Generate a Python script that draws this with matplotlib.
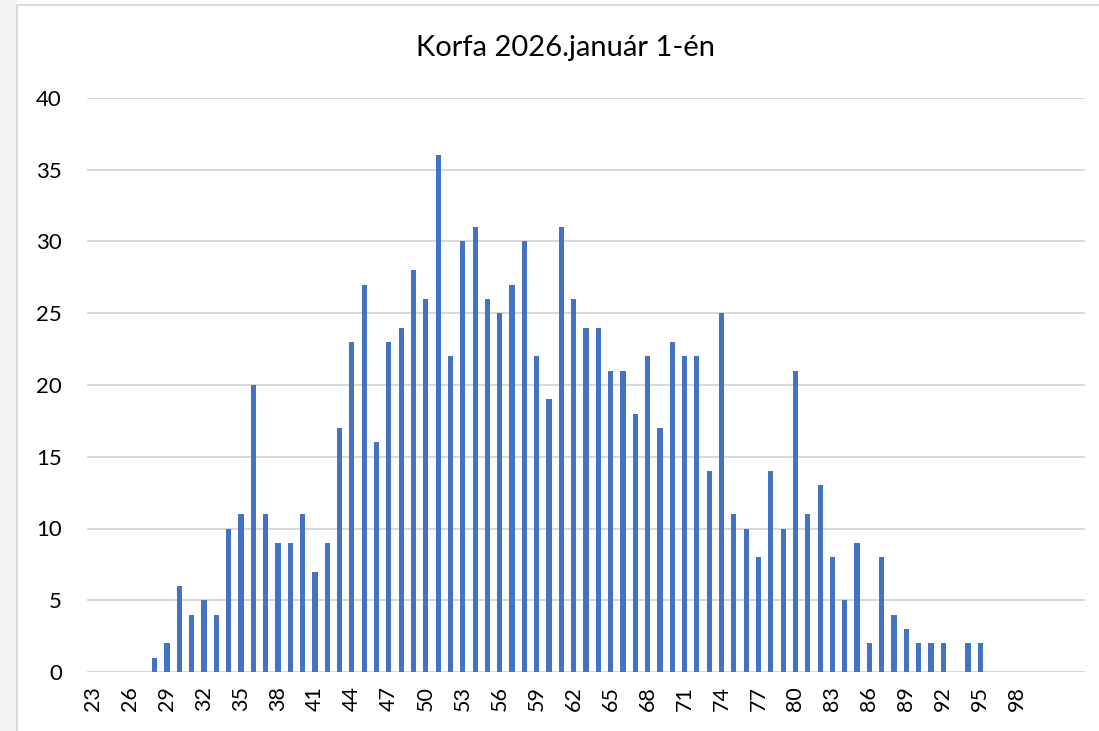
import matplotlib.pyplot as plt
from matplotlib.patches import Rectangle

ages = list(range(23, 101))
counts = [0, 0, 0, 0, 0, 1, 2, 6, 4, 5,
          4, 10, 11, 20, 11, 9, 9, 11, 7, 9,
          17, 23, 27, 16, 23, 24, 28, 26, 36, 22,
          30, 31, 26, 25, 27, 30, 22, 19, 31, 26,
          24, 24, 21, 21, 18, 22, 17, 23, 22, 22,
          14, 25, 11, 10, 8, 14, 10, 21, 11, 13,
          8, 5, 9, 2, 8, 4, 3, 2, 2, 2,
          0, 2, 2, 0, 0, 0, 0, 0]
n_slots = 81  # the category axis runs a few slots past the last label
title = 'Korfa 2026.január 1-én'

plt.rcParams['font.family'] = ['Lato', 'DejaVu Sans']

fig = plt.figure(figsize=(10.99, 7.31), dpi=100)
# spreadsheet background strip and chart frame
fig.patches.append(Rectangle((0, 0), 17 / 1099, 1, transform=fig.transFigure,
                             facecolor='#f2f2f2', edgecolor='none', zorder=0))
fig.patches.append(Rectangle((17 / 1099, -0.05), 1.0, 1 - 5 / 731 + 0.05,
                             transform=fig.transFigure, facecolor='white',
                             edgecolor='#d9d9d9', linewidth=1.5, zorder=0))

ax = fig.add_axes([87 / 1099, 59 / 731, (1085 - 87) / 1099, (672 - 98) / 731])
ax.set_zorder(2)
x = list(range(len(ages)))
ax.bar(x, counts, width=0.42, color='#4472c4', zorder=3)

ax.set_xlim(-0.5, n_slots - 0.5)
ax.set_ylim(0, 40)
ax.set_yticks(range(0, 41, 5))
ax.set_xticks(x[::3])
ax.set_xticklabels([str(a) for a in ages[::3]], rotation=90, fontsize=15.5)
ax.tick_params(axis='y', labelsize=16, length=0, pad=18)
ax.tick_params(axis='x', length=0, pad=10)
ax.grid(axis='y', color='#d9d9d9', linewidth=1.4, zorder=0)
for s in ax.spines.values():
    s.set_visible(False)
ax.set_facecolor('none')

fig.text(566 / 1099, 1 - 48 / 731, title, ha='center', va='center',
         fontsize=21, zorder=3)

fig.savefig('out.png', dpi=100)
